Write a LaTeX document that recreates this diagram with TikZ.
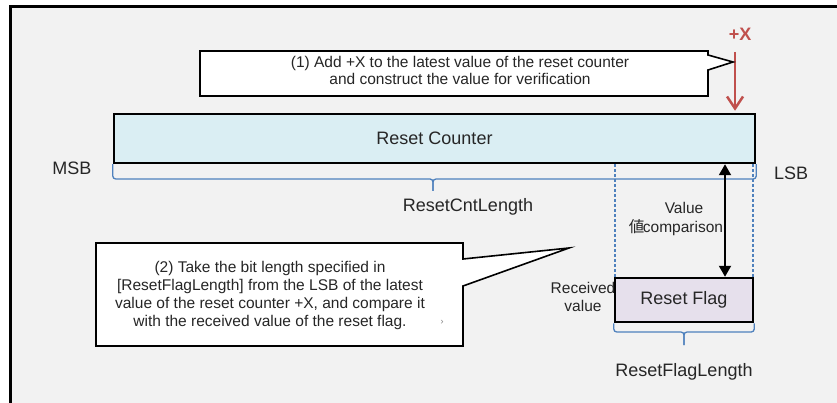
\documentclass[tikz,border=0pt]{standalone}
\usepackage{fontspec}
\setmainfont{Liberation Sans}
\newfontfamily\cjkfont{Noto Sans CJK JP}
\usetikzlibrary{arrows.meta}
\definecolor{bgray}{HTML}{F2F2F2}
\definecolor{cntfill}{HTML}{DAEEF3}
\definecolor{flagfill}{HTML}{E6E0EC}
\definecolor{braceblue}{HTML}{4F81BD}
\definecolor{arrred}{HTML}{C0504D}
\definecolor{txt}{HTML}{262626}
\tikzset{
  lbl/.style={font=\fontsize{18}{20}\selectfont, text=txt, inner sep=0pt},
  smalltxt/.style={font=\fontsize{15.5}{18}\selectfont, text=txt, inner sep=0pt, align=center},
  bitbox/.style={draw=black, line width=2.5pt, inner sep=0pt, text=txt, font=\fontsize{18}{20}\selectfont},
  bracestyle/.style={draw=braceblue, line width=1.3pt, rounded corners=3pt},
  dashline/.style={draw=braceblue, line width=1.1pt, dash pattern=on 3pt off 2pt},
  callout/.style={draw=black, fill=white, line width=1.6pt, line join=miter},
}
\begin{document}
\begin{tikzpicture}[x=1pt,y=-1pt]
\useasboundingbox (0,0) rectangle (837,403);
% frame
\fill[white] (0,0) rectangle (837,403);
\fill[bgray] (10,6) rectangle (837,403);
\draw[line width=3pt, line join=miter] (10.5,403) -- (10.5,6.3) -- (837,6.3);

% labels drawn below boxes
\node[smalltxt] (rv) at (583,297) {Received\\value};
\node[lbl] (msb) at (72,168) {MSB};
\node[lbl] (lsb) at (791,173) {LSB};
\node[lbl] (cntlen) at (468,207) {ResetCntLength};
\node[lbl] (flaglen) at (684,372) {ResetFlagLength};
\node[smalltxt] (v1) at (684,208) {Value};
\node[smalltxt] (v2) at (676,228) {{\cjkfont 値}\kern-1.5pt comparison};
\node[font=\fontsize{9}{10}\selectfont, text=gray, inner sep=0pt] (gl) at (442,322) {›};

% reset counter
\node[bitbox, fill=cntfill, minimum width=641pt, minimum height=49pt] (counter) at (434.5,138.5) {Reset Counter};

% dashed guides
\coordinate (fl) at (615,300);
\coordinate (fr) at (753,300);
\draw[dashline] (fl |- counter.south) -- (fl |- 0,278);
\draw[dashline] (fr |- counter.south) -- (fr |- 0,322);

% counter brace
\coordinate (cb) at (0,179);
\coordinate (cm) at (433,0);
\draw[bracestyle] (counter.south west) -- (counter.south west |- cb) -- (cm |- cb) -- (cm |- 0,191);
\draw[bracestyle] (cm |- 0,191) -- (cm |- cb) -- (counter.south east |- cb) -- (counter.south east);

% reset flag
\node[bitbox, fill=flagfill, minimum width=138pt, minimum height=44pt] (flag) at (684,300) {Reset Flag};

% flag brace
\coordinate (fb) at (0,332);
\draw[bracestyle] (flag.south west) -- (flag.south west |- fb) -- (flag.south |- fb) -- (flag.south |- 0,345);
\draw[bracestyle] (flag.south |- 0,345) -- (flag.south |- fb) -- (flag.south east |- fb) -- (flag.south east);

% comparison arrow
\coordinate (ax) at (725,0);
\draw[line width=2pt, {Triangle[length=11pt,width=12pt]}-{Triangle[length=11pt,width=12pt]}] (ax |- counter.south) -- (ax |- flag.north);

% +X and red arrow
\node[font=\bfseries\fontsize{18}{20}\selectfont, text=arrred, inner sep=0pt] (plusx) at (740,34) {+X};
\coordinate (rx) at (735,52);
\draw[arrred, line width=2.5pt, -{Straight Barb[length=12pt,width=16pt]}, shorten >=2pt] (rx) -- (rx |- counter.north);

% callout 1
\draw[callout] (200,51) -- (708,51) -- (708,55) -- (733,62) -- (708,70) -- (708,96) -- (200,96) -- cycle;
\node[smalltxt, font=\fontsize{15.5}{17}\selectfont] (t1) at (460,70) {(1) Add +X to the latest value of the reset counter\\and construct the value for verification};

% callout 2
\draw[callout] (96,243) -- (463,243) -- (463,259) -- (569,248) -- (463,286) -- (463,346) -- (96,346) -- cycle;
\node[smalltxt] (t2) at (270,295) {(2) Take the bit length specified in\\{[}ResetFlagLength{]} from the LSB of the latest\\value of the reset counter +X, and compare it\\with the received value of the reset flag.};
\node[font=\fontsize{9}{10}\selectfont, text=gray, inner sep=0pt] (gl2) at (442,322) {›};
\end{tikzpicture}
\end{document}
